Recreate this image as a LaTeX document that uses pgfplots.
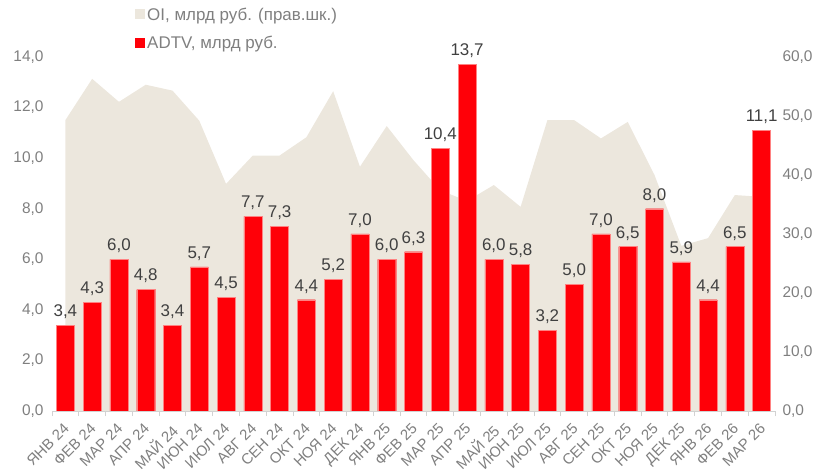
\documentclass[border=0pt]{standalone}
\usepackage{fontspec}
\setmainfont{Liberation Sans}
\usepackage{pgfplots}
\usepackage{pgfplotstable}
\pgfplotsset{compat=1.18}
\definecolor{oibeige}{RGB}{236,231,221}
\definecolor{barred}{RGB}{255,0,8}
\definecolor{baredge}{RGB}{255,130,130}
\definecolor{tickgray}{RGB}{127,127,127}
\definecolor{labgray}{RGB}{64,64,64}
\definecolor{axgray}{RGB}{210,210,210}
\pgfplotstableread{
x oi adtv
0 49.3 3.4
1 56.3 4.3
2 52.4 6.0
3 55.3 4.8
4 54.3 3.4
5 49.2 5.7
6 38.5 4.5
7 43.3 7.7
8 43.3 7.3
9 46.4 4.4
10 54.2 5.2
11 41.4 7.0
12 48.3 6.0
13 42.5 6.3
14 37.4 10.4
15 35.6 13.7
16 38.3 6.0
17 34.6 5.8
18 49.3 3.2
19 49.3 5.0
20 46.2 7.0
21 49.0 6.5
22 40.0 8.0
23 28.0 5.9
24 29.3 4.4
25 36.6 6.5
26 36.3 11.1
}\datatable
\begin{document}
\begin{tikzpicture}
\begin{axis}[
  at={(52bp,61bp)}, anchor=south west,
  scale only axis, width=723bp, height=354bp,
  xmin=-0.5, xmax=26.5, ymin=0, ymax=60,
  hide x axis,
  axis y line*=right,
  y axis line style={draw=none},
  ytick={0,10,...,60},
  major tick length=0,
  yticklabel style={font=\fontsize{15.5}{18}\selectfont, text=tickgray, anchor=west, xshift=4bp,
    /pgf/number format/.cd, fixed, fixed zerofill, precision=1, use comma, assume math mode=true},
]
\addplot[fill=oibeige, draw=none] table[x=x, y=oi] {\datatable} \closedcycle;
\end{axis}
\begin{axis}[
  at={(52bp,61bp)}, anchor=south west,
  scale only axis, width=723bp, height=354bp,
  xmin=-0.5, xmax=26.5, ymin=0, ymax=14,
  axis y line*=left, axis x line*=bottom,
  y axis line style={draw=none},
  x axis line style={draw=axgray, line width=0.8pt},
  ytick={0,2,...,14},
  xtick={0,...,26},
  minor xtick={-0.5,0.5,...,26.5},
  major tick length=0,
  minor tick length=5bp,
  tick align=outside,
  minor tick style={draw=axgray, line width=0.8pt},
  xticklabels={ЯНВ 24,ФЕВ 24,МАР 24,АПР 24,МАЙ 24,ИЮН 24,ИЮЛ 24,АВГ 24,СЕН 24,ОКТ 24,НОЯ 24,ДЕК 24,ЯНВ 25,ФЕВ 25,МАР 25,АПР 25,МАЙ 25,ИЮН 25,ИЮЛ 25,АВГ 25,СЕН 25,ОКТ 25,НОЯ 25,ДЕК 25,ЯНВ 26,ФЕВ 26,МАР 26},
  xticklabel style={font=\fontsize{15}{16}\selectfont, text=tickgray, rotate=45, anchor=north east, inner sep=0pt, xshift=-10bp, yshift=-6bp},
  yticklabel style={font=\fontsize{15.5}{18}\selectfont, text=tickgray, anchor=east, xshift=-5bp,
    /pgf/number format/.cd, fixed, fixed zerofill, precision=1, use comma, assume math mode=true},
  ybar, bar width=18bp,
  nodes near coords,
  nodes near coords style={font=\fontsize{17}{18}\selectfont, text=labgray, anchor=south, yshift=3bp,
    /pgf/number format/.cd, fixed, fixed zerofill, precision=1, use comma, assume math mode=true},
  legend style={at={(0.115,1.147)}, anchor=north west, draw=none, fill=none,
    font=\fontsize{17}{19}\selectfont, text=tickgray, row sep=9.5bp, inner sep=0pt,
    nodes={inner sep=2.5bp}},
  legend cell align=left,
]
\addlegendimage{legend image code/.code={\fill[oibeige] (0bp,-4bp) rectangle (9bp,5bp);}}
\addlegendentry{OI, млрд руб. (прав.шк.)}
\addlegendimage{legend image code/.code={\fill[barred] (0bp,-4bp) rectangle (9bp,5bp);}}
\addlegendentry{ADTV, млрд руб.}
\addplot[fill=barred, draw=baredge, line width=0.3pt, bar shift=0pt, forget plot] table[x=x, y=adtv] {\datatable};
\end{axis}
\pgfresetboundingbox
\useasboundingbox (0,0) rectangle (821bp,472bp);
\end{tikzpicture}
\end{document}
